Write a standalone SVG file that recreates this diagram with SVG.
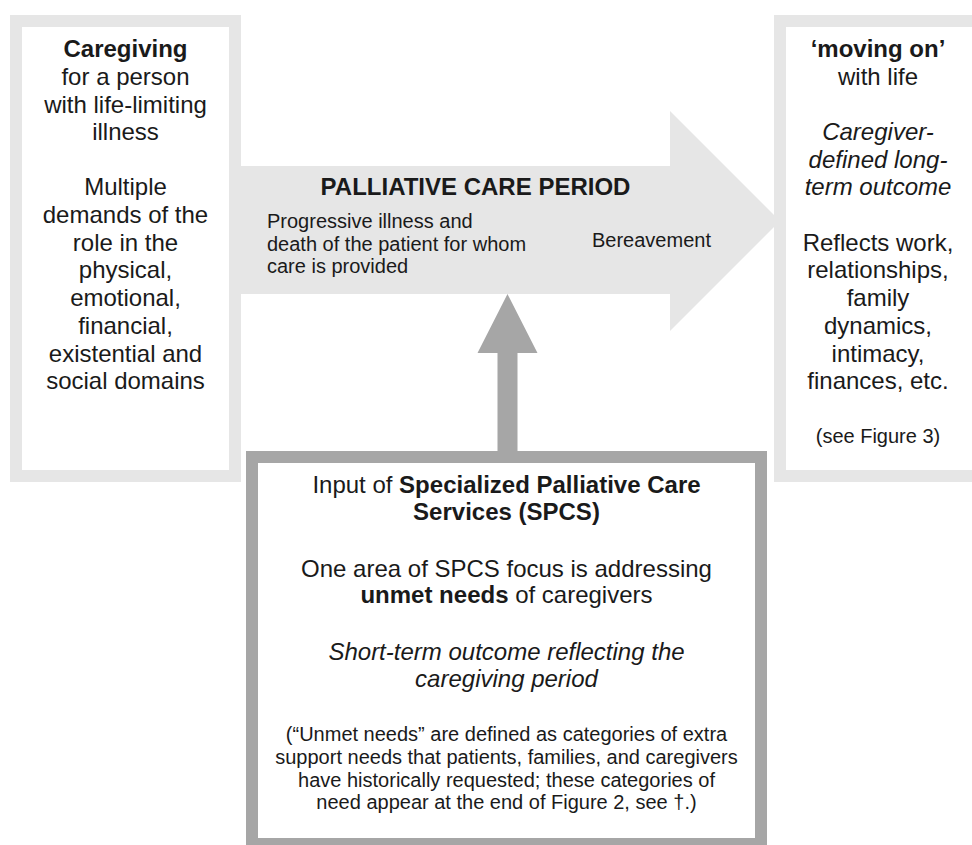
<svg xmlns="http://www.w3.org/2000/svg" width="972" height="845" viewBox="0 0 972 845">
<style>
text{font-family:"Liberation Sans",Arial,Helvetica,sans-serif;fill:#1a1a1a;text-anchor:middle}
.l{font-size:24px}
.s{font-size:20px}
.b{font-weight:bold}
.i{font-style:italic}
.lt{fill:#ffffff;stroke:#e6e6e6;stroke-width:12}
.dk{fill:#ffffff;stroke:#a6a6a6;stroke-width:12}
</style>
<rect width="972" height="845" fill="#ffffff"/>
<g id="connectors">
<polygon id="period-arrow" points="240,166 670,166 670,111 780,221 670,331 670,294 240,294" fill="#e6e6e6"/>
<polygon id="input-arrow" points="507.5,294 537.5,353 517.5,353 517.5,451 497.5,451 497.5,353 477.5,353" fill="#a6a6a6"/>
</g>
<g id="period-labels">
<text class="l b" x="475.5" y="195">PALLIATIVE CARE PERIOD</text>
<text class="s" style="text-anchor:start" x="267" y="228">Progressive illness and</text>
<text class="s" style="text-anchor:start" x="267" y="251">death of the patient for whom</text>
<text class="s" style="text-anchor:start" x="267" y="273">care is provided</text>
<text class="s" style="text-anchor:start" x="592" y="247">Bereavement</text>
</g>
<g id="caregiving">
<rect class="lt" x="16" y="21" width="219" height="455"/>
<text class="l b" x="125.5" y="57">Caregiving</text>
<text class="l" x="125.5" y="85">for a person</text>
<text class="l" x="125.5" y="113">with life-limiting</text>
<text class="l" x="125.5" y="140">illness</text>
<text class="l" x="125.5" y="195">Multiple</text>
<text class="l" x="125.5" y="223">demands of the</text>
<text class="l" x="125.5" y="251">role in the</text>
<text class="l" x="125.5" y="278">physical,</text>
<text class="l" x="125.5" y="306">emotional,</text>
<text class="l" x="125.5" y="334">financial,</text>
<text class="l" x="125.5" y="362">existential and</text>
<text class="l" x="125.5" y="389">social domains</text>
</g>
<g id="moving-on">
<rect class="lt" x="780" y="21" width="250" height="455"/>
<text class="l b" x="878" y="57">‘moving on’</text>
<text class="l" x="878" y="85">with life</text>
<text class="l i" x="878" y="140">Caregiver-</text>
<text class="l i" x="878" y="168">defined long-</text>
<text class="l i" x="878" y="195">term outcome</text>
<text class="l" x="878" y="251">Reflects work,</text>
<text class="l" x="878" y="278">relationships,</text>
<text class="l" x="878" y="306">family</text>
<text class="l" x="878" y="334">dynamics,</text>
<text class="l" x="878" y="362">intimacy,</text>
<text class="l" x="878" y="389">finances, etc.</text>
<text class="s" x="878" y="443">(see Figure 3)</text>
</g>
<g id="spcs">
<rect class="dk" x="252" y="457" width="509" height="387"/>
<text class="l" x="506.5" y="493">Input of <tspan class="b">Specialized Palliative Care</tspan></text>
<text class="l b" x="506.5" y="520">Services (SPCS)</text>
<text class="l" x="506.5" y="577">One area of SPCS focus is addressing</text>
<text class="l" x="506.5" y="603"><tspan class="b">unmet needs</tspan> of caregivers</text>
<text class="l i" x="506.5" y="660">Short-term outcome reflecting the</text>
<text class="l i" x="506.5" y="687">caregiving period</text>
<text class="s" x="506.5" y="741">(“Unmet needs” are defined as categories of extra</text>
<text class="s" x="506.5" y="764">support needs that patients, families, and caregivers</text>
<text class="s" x="506.5" y="787">have historically requested; these categories of</text>
<text class="s" x="506.5" y="809">need appear at the end of Figure 2, see †.)</text>
</g>
</svg>
